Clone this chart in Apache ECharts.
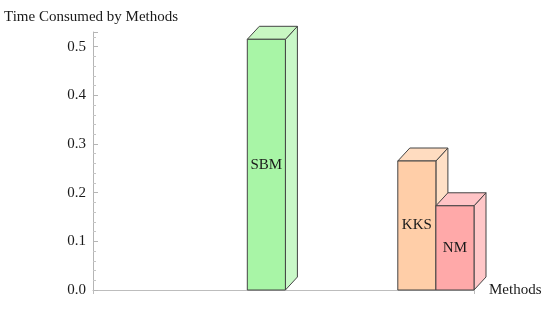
<!DOCTYPE html>
<html>
<head>
<meta charset="utf-8">
<script src="https://cdn.jsdelivr.net/npm/echarts@6/dist/echarts.min.js"></script>
<style>
html,body{margin:0;padding:0;background:#fff;}
#chart{width:550px;height:312px;}
</style>
</head>
<body>
<div id="chart"></div>
<script>
// ---- data ----
var categories = ['SBM', 'KKS', 'NM'];
var values = [0.515, 0.265, 0.173];
var yTicks = ['0.0', '0.1', '0.2', '0.3', '0.4', '0.5'];
var titleText = 'Time Consumed by Methods';
var xName = 'Methods';

// ---- layout / style ----
var slotOf = [4.05, 8, 9];            // slot index on the hidden x scale
var frontColors = ['#a8f5a6', '#ffcea8', '#ffa9a9'];
var topColors   = ['#c8f7c2', '#ffdcc0', '#ffc4c6'];
var sideColors  = ['#c9f8c8', '#ffe0c6', '#ffc7c8'];
var depthX = 12, depthY = -13;
var FONT = '"Liberation Serif", "Times New Roman", serif';

var seriesData = categories.map(function (c, i) {
  return [slotOf[i], values[i], i];
});

var chart = echarts.init(document.getElementById('chart'), null, {renderer: 'canvas'});

function renderItem(params, api) {
  var slot = api.value(0), val = api.value(1), idx = api.value(2);
  var tl = api.coord([slot, val]);
  var br = api.coord([slot + 1, 0]);
  var x0 = tl[0], y0 = tl[1], x1 = br[0], y1 = br[1];
  var edge = {stroke: '#444', lineWidth: 1, lineJoin: 'round'};
  return {
    type: 'group',
    children: [
      {
        type: 'polygon',
        shape: {points: [[x1, y1], [x1, y0], [x1 + depthX, y0 + depthY], [x1 + depthX, y1 + depthY]]},
        style: Object.assign({fill: sideColors[idx]}, edge)
      },
      {
        type: 'polygon',
        shape: {points: [[x0, y0], [x0 + depthX, y0 + depthY], [x1 + depthX, y0 + depthY], [x1, y0]]},
        style: Object.assign({fill: topColors[idx]}, edge)
      },
      {
        type: 'rect',
        shape: {x: x0, y: y0, width: x1 - x0, height: y1 - y0},
        style: Object.assign({fill: frontColors[idx]}, edge)
      },
      {
        type: 'text',
        style: {
          text: categories[idx],
          x: (x0 + x1) / 2, y: (y0 + y1) / 2,
          align: 'center', verticalAlign: 'middle',
          font: '15px ' + FONT, fill: '#1a1a1a'
        }
      }
    ]
  };
}

var option = {
  animation: false,
  title: {
    text: titleText,
    left: 4, top: 10, padding: 0,
    textStyle: {fontFamily: FONT, fontSize: 15, fontWeight: 'normal', color: '#1a1a1a'}
  },
  grid: {left: 93, right: 76, top: 32, bottom: 22},
  xAxis: {
    type: 'value', min: 0, max: 10, interval: 10,
    name: xName, nameLocation: 'end', nameGap: 15,
    nameTextStyle: {fontFamily: FONT, fontSize: 15, color: '#1a1a1a', padding: [5, 0, 0, 0]},
    axisLine: {show: true, lineStyle: {color: '#bdbdbd', width: 1}},
    axisTick: {show: true, inside: false, length: 4, lineStyle: {color: '#bdbdbd'}},
    axisLabel: {show: false},
    splitLine: {show: false}
  },
  yAxis: {
    type: 'value', min: 0, max: 0.53, interval: 0.1,
    axisLine: {show: true, lineStyle: {color: '#b5b5b5', width: 1}},
    axisTick: {show: true, inside: true, length: 5, lineStyle: {color: '#b5b5b5'}},
    minorTick: {show: true, splitNumber: 5, length: 3, lineStyle: {color: '#c5c5c5'}},
    axisLabel: {
      margin: 7,
      fontFamily: FONT, fontSize: 15, color: '#1a1a1a',
      formatter: function (v) {
        var k = Math.round(v * 10);
        if (Math.abs(v * 10 - k) > 1e-6) return '';
        return yTicks[k] || '';
      }
    },
    splitLine: {show: false}
  },
  series: [{
    type: 'custom',
    renderItem: renderItem,
    data: seriesData,
    encode: {x: 0, y: 1},
    clip: false
  }]
};
chart.setOption(option);
</script>
</body>
</html>
